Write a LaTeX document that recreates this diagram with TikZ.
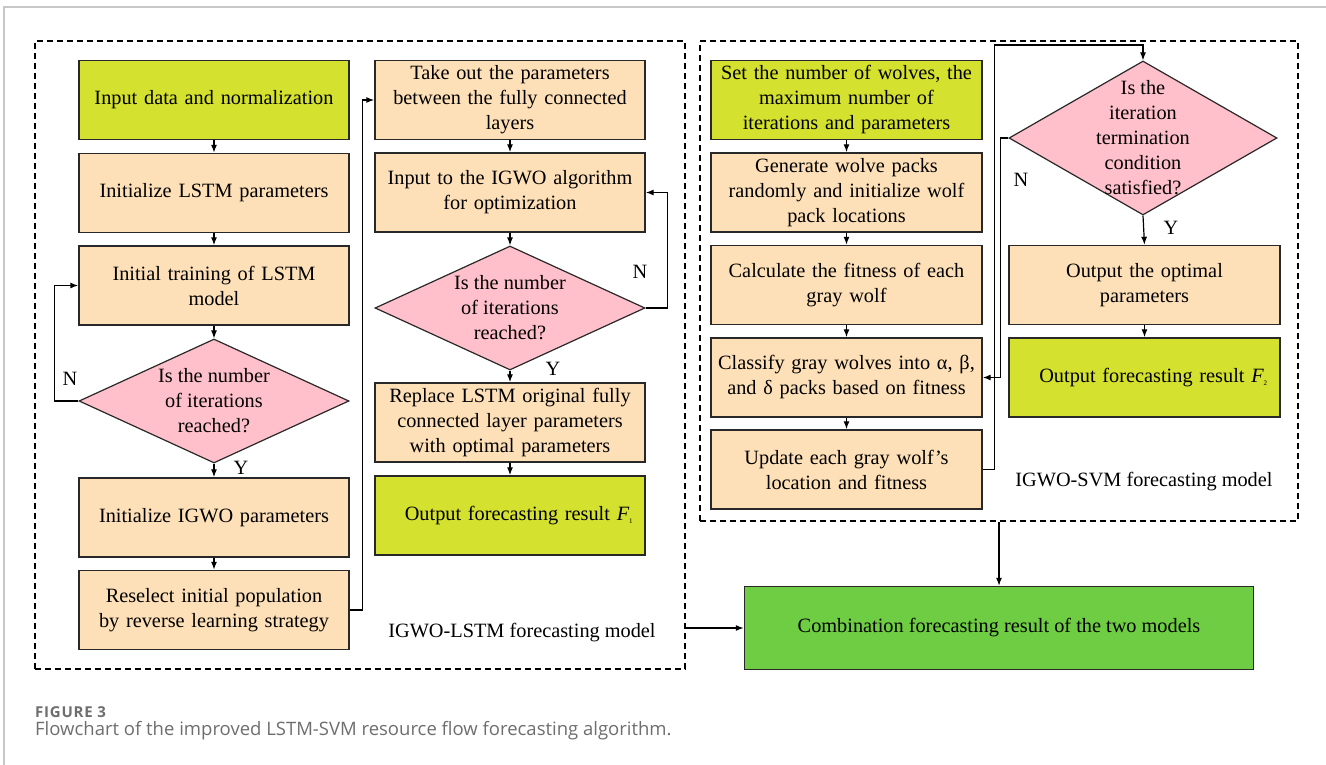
\documentclass[tikz,border=0pt]{standalone}
\usepackage{fontspec}
\setmainfont{Liberation Serif}
\newfontfamily\capfont{Open Sans}
\usetikzlibrary{arrows.meta,shapes.geometric,calc}
\definecolor{yg}{RGB}{212,225,46}
\definecolor{peach}{RGB}{253,224,183}
\definecolor{pinkd}{RGB}{255,192,203}
\definecolor{combg}{RGB}{110,205,66}
\definecolor{bord}{RGB}{40,40,40}
\definecolor{capgray}{RGB}{110,110,110}
\definecolor{framegray}{RGB}{200,200,200}
\tikzset{
  every node/.style={font=\fontsize{20.3}{25}\selectfont},
  box/.style={draw=bord, line width=1.4pt, fill=peach, minimum width=270pt, minimum height=79pt, inner sep=0pt, text width=266pt, align=center},
  gbox/.style={box, fill=yg},
  dia/.style={draw=bord, line width=1.2pt, fill=pinkd, diamond, inner sep=0pt},
  dtext/.style={align=center, inner sep=0pt},
  frame/.style={draw=black, line width=1.3pt, dash pattern=on 6pt off 4pt, minimum width=#1, inner sep=0pt},
  arr/.style={draw=black, line width=1.2pt, -{Latex[length=8pt,width=6pt]}},
  lab/.style={inner sep=0pt},
}
\begin{document}
\begin{tikzpicture}[x=1pt,y=-1pt]
\useasboundingbox (0,0) rectangle (1326,765);
\fill[white] (0,0) rectangle (1326,765);
\draw[framegray, line width=2pt] (4,765) -- (4,7) -- (1326,7);

% dashed frames
\node[frame=650pt, minimum height=628pt] (boxL) at (360,355) {};
\node[frame=598pt, minimum height=480pt] (boxR) at (999,281) {};

% left column
\node[gbox] (n1) at (214,100) {Input data and normalization};
\node[box] (n2) at (214,193) {Initialize LSTM parameters};
\node[box] (n3) at (214,285.5) {Initial training of LSTM\\model};
\node[dia, minimum width=270pt, minimum height=124pt] (d1) at (214,401) {};
\node[dtext] (d1t) at (214,401) {Is the number\\of iterations\\reached?};
\node[box] (n4) at (214,517.5) {Initialize IGWO parameters};
\node[box] (n5) at (214,610) {Reselect initial population\\by reverse learning strategy};

% middle column
\node[box] (m1) at (510,100) {Take out the parameters\\between the fully connected\\layers};
\node[box] (m2) at (510,192.5) {Input to the IGWO algorithm\\for optimization};
\node[dia, minimum width=270pt, minimum height=124pt] (d2) at (510,308) {};
\node[dtext] (d2t) at (510,308) {Is the number\\of iterations\\reached?};
\node[box] (m3) at (510,422.5) {Replace LSTM original fully\\connected layer parameters\\with optimal parameters};
\node[gbox] (m4) at (510,515.5) {\hspace*{18pt}Output forecasting result {\itshape F}\textsubscript{\scriptsize 1}};
\node[lab] (lblL) at (522,633) {IGWO-LSTM forecasting model};

% right block, left column
\node[gbox, minimum width=271pt] (r1) at (846.5,100) {Set the number of wolves, the\\maximum number of\\iterations and parameters};
\node[box, minimum width=271pt] (r2) at (846.5,192.5) {Generate wolve packs\\randomly and initialize wolf\\pack locations};
\node[box, minimum width=271pt] (r3) at (846.5,285) {Calculate the fitness of each\\gray wolf};
\node[box, minimum width=271pt] (r4) at (846.5,377.5) {Classify gray wolves into α, β,\\and δ packs based on fitness};
\node[box, minimum width=271pt] (r5) at (846.5,469.5) {Update each gray wolf's\\location and fitness};

% right block, right column
\node[dia, minimum width=268pt, minimum height=154pt] (d3) at (1143,138) {};
\node[dtext] (d3t) at (1143,138) {Is the\\iteration\\termination\\condition\\satisfied?};
\node[box, minimum width=271pt] (r6) at (1144.5,285) {Output the optimal\\parameters};
\node[gbox, minimum width=271pt] (r7) at (1144.5,377.5) {\hspace*{18pt}Output forecasting result {\itshape F}\textsubscript{\scriptsize 2}};
\node[lab] (lblR) at (1144,482) {IGWO-SVM forecasting model};

% combination
\node[draw=bord, line width=1.4pt, fill=combg, minimum width=509pt, minimum height=83pt, inner sep=0pt] (comb) at (999,628) {Combination forecasting result of the two models};

% connectors left
\draw[arr] (n1) -- (n2);
\draw[arr] (n2) -- (n3);
\draw[arr] (n3) -- (d1);
\draw[arr] (d1) -- (n4);
\draw[arr] (n4) -- (n5);
\draw[arr] (d1.west) -- ++(-24,0) |- (n3.west);
\draw[arr] (n5.east) -- ++(13,0) |- (m1.west);
% connectors middle
\draw[arr] (m1) -- (m2);
\draw[arr] (m2) -- (d2);
\draw[arr] (d2) -- (m3);
\draw[arr] (m3) -- (m4);
\draw[arr] (d2.east) -- ++(22,0) |- (m2.east);
% connectors right
\draw[arr] (r1) -- (r2);
\draw[arr] (r2) -- (r3);
\draw[arr] (r3) -- (r4);
\draw[arr] (r4) -- (r5);
\coordinate (topc) at (1143,45);
\draw[arr] (r5.east) -- ++(12,0) |- (topc) -- (d3.north);
\draw[arr] (d3.west) -- ++(-8,0) |- (r4.east);
\draw[arr] (d3.south) -- (r6.north);
\draw[arr] (r6) -- (r7);
% to combination
\draw[arr] (boxL.east |- comb.west) -- (comb.west);
\draw[arr] (boxR.south) -- (comb.north);

% N / Y labels
\node[lab] (lN1) at (70,379) {N};
\node[lab] (lY1) at (241,468) {Y};
\node[lab] (lN2) at (640,272) {N};
\node[lab] (lY2) at (553,369) {Y};
\node[lab] (lN3) at (1021,180) {N};
\node[lab] (lY3) at (1171,228) {Y};

% caption
\node[anchor=west, inner sep=0pt, text=capgray, font=\capfont\fontsize{15}{18}\selectfont\bfseries\addfontfeature{LetterSpace=5}] (figlab) at (35,712) {FIGURE 3};
\node[anchor=west, inner sep=0pt, text=capgray, font=\capfont\fontsize{18.5}{22}\selectfont] (cap) at (35,731) {Flowchart of the improved LSTM-SVM resource flow forecasting algorithm.};
\end{tikzpicture}
\end{document}
